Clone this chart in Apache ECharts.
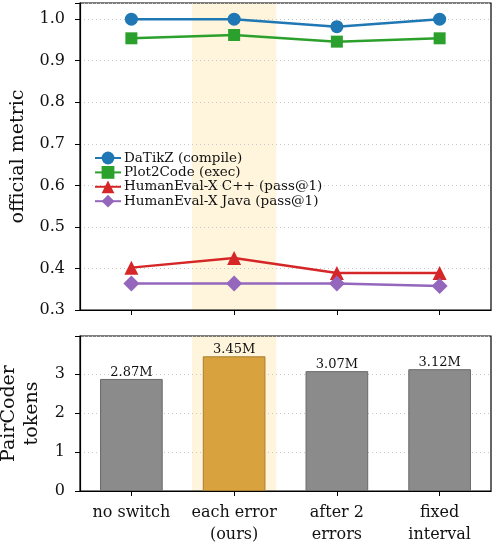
<!DOCTYPE html>
<html>
<head>
<meta charset="utf-8">
<script src="https://cdn.jsdelivr.net/npm/echarts@6/dist/echarts.min.js"></script>
<style>
  html, body { margin: 0; padding: 0; background: #fff; }
</style>
</head>
<body>
<div id="chart" style="width:495px;height:547px;"></div>
<script>
// 横轴类别
var categories = ['no switch', 'each error\n(ours)', 'after 2\nerrors', 'fixed\ninterval'];
// 上图: 各基准的官方指标
var datikz = [1.0, 1.0, 0.982, 1.0];
var plot2code = [0.954, 0.962, 0.946, 0.954];
var heCpp = [0.402, 0.425, 0.389, 0.389];
var heJava = [0.364, 0.364, 0.364, 0.358];
// 下图: PairCoder token 数 (百万)
var tokens = [2.87, 3.45, 3.07, 3.12];
var highlightIndex = 1;

var font = 'DejaVu Serif';
var chart = echarts.init(document.getElementById('chart'));

// 高亮区域 (each error)
function bandItem(params, api) {
  var c = api.coord([api.value(0), 0]);
  var bw = api.size([1, 0])[0];
  var cs = params.coordSys;
  return {
    type: 'rect',
    shape: { x: c[0] - bw * 0.41, y: cs.y, width: bw * 0.82, height: cs.height },
    style: { fill: '#fff4dc' }
  };
}

function lineSeries(name, data, color, symbol, size) {
  return {
    name: name,
    type: 'line',
    xAxisIndex: 0,
    yAxisIndex: 0,
    data: data,
    symbol: symbol,
    symbolSize: size,
    showAllSymbol: true,
    lineStyle: { color: color, width: 2.5 },
    itemStyle: { color: color },
    z: 3
  };
}

var axisLine = { show: true, lineStyle: { color: '#000', width: 1.2 } };
var axisTick = { show: true, length: 5, lineStyle: { color: '#000', width: 1 } };
var splitLine = { show: true, lineStyle: { color: '#c8c8c8', type: [1, 3], width: 1 } };

var option = {
  animation: false,
  textStyle: { fontFamily: font },
  grid: [
    { left: 80, right: 4, top: 3, height: 307, show: true, borderColor: '#000', borderWidth: 1.2, backgroundColor: 'transparent', outerBoundsMode: 'none' },
    { left: 80, right: 4, top: 336, height: 155, show: true, borderColor: '#000', borderWidth: 1.2, backgroundColor: 'transparent', outerBoundsMode: 'none' }
  ],
  legend: {
    orient: 'vertical',
    left: 89,
    top: 146,
    itemWidth: 26,
    itemHeight: 16,
    itemGap: 0.4,
    data: ['DaTikZ (compile)', 'Plot2Code (exec)', 'HumanEval-X C++ (pass@1)', 'HumanEval-X Java (pass@1)'],
    textStyle: { fontFamily: font, fontSize: 13.5, color: '#111', padding: [0, 0, 0, -2] }
  },
  xAxis: [
    {
      gridIndex: 0, type: 'category', data: categories, boundaryGap: true,
      axisLine: axisLine, axisTick: Object.assign({ alignWithLabel: true }, axisTick),
      axisLabel: { show: false }, splitLine: { show: false }
    },
    {
      gridIndex: 1, type: 'category', data: categories, boundaryGap: true,
      axisLine: axisLine, axisTick: Object.assign({ alignWithLabel: true }, axisTick),
      axisLabel: { interval: 0, fontFamily: font, fontSize: 16, color: '#111', margin: 11, lineHeight: 22 },
      splitLine: { show: false }
    }
  ],
  yAxis: [
    {
      gridIndex: 0, type: 'value', min: 0.3, max: 1.039, interval: 0.1,
      name: 'official metric', nameLocation: 'middle', nameGap: 52,
      nameTextStyle: { fontFamily: font, fontSize: 19, color: '#111' },
      axisLine: axisLine, axisTick: axisTick, splitLine: splitLine,
      axisLabel: {
        fontFamily: font, fontSize: 16, color: '#111', margin: 15,
        formatter: function (v) { return v > 1.03 ? '' : v.toFixed(1); }
      }
    },
    {
      gridIndex: 1, type: 'value', min: 0, max: 3.97, interval: 1,
      name: 'PairCoder\ntokens', nameLocation: 'middle', nameGap: 34,
      nameTextStyle: { fontFamily: font, fontSize: 19, color: '#111', lineHeight: 23 },
      axisLine: axisLine, axisTick: axisTick, splitLine: splitLine,
      axisLabel: {
        fontFamily: font, fontSize: 16, color: '#111', margin: 15,
        formatter: function (v) { return v > 3.9 ? '' : String(v); }
      }
    }
  ],
  series: [
    { type: 'custom', xAxisIndex: 0, yAxisIndex: 0, data: [[highlightIndex, 0]], renderItem: bandItem, z: -1, silent: true },
    { type: 'custom', xAxisIndex: 1, yAxisIndex: 1, data: [[highlightIndex, 0]], renderItem: bandItem, z: -1, silent: true },
    lineSeries('DaTikZ (compile)', datikz, '#1f77b4', 'circle', 13),
    lineSeries('Plot2Code (exec)', plot2code, '#2ca02c', 'rect', 12),
    lineSeries('HumanEval-X C++ (pass@1)', heCpp, '#d62728', 'triangle', 14),
    lineSeries('HumanEval-X Java (pass@1)', heJava, '#9467bd', 'diamond', 16),
    {
      type: 'bar',
      xAxisIndex: 1,
      yAxisIndex: 1,
      barWidth: '61%',
      data: tokens.map(function (v, i) {
        var hi = i === highlightIndex;
        return {
          value: v,
          itemStyle: {
            color: hi ? '#d8a33f' : '#8b8b8b',
            borderColor: hi ? '#a97e30' : '#6a6a6a',
            borderWidth: 1
          }
        };
      }),
      label: {
        show: true, position: 'top', distance: 0,
        fontFamily: font, fontSize: 13, color: '#111',
        formatter: function (p) { return p.value.toFixed(2) + 'M'; }
      },
      z: 3
    }
  ]
};

chart.setOption(option);
window.addEventListener('resize', function () { chart.resize(); });
</script>
</body>
</html>
